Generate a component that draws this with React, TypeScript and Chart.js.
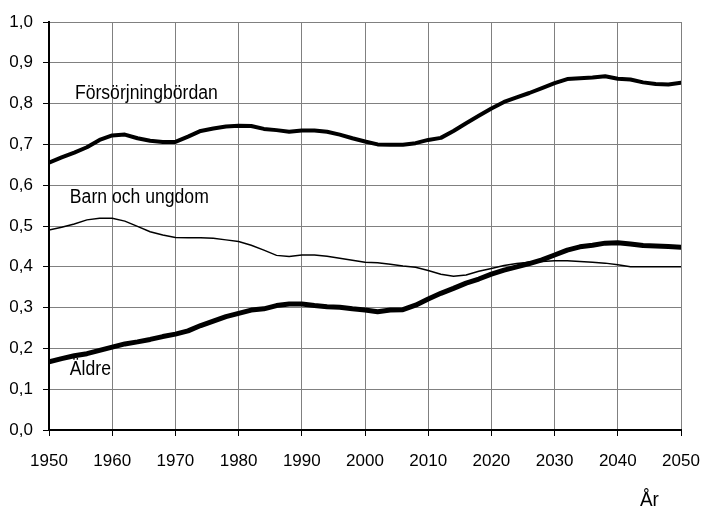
import React, { useEffect, useRef } from "react";
import { Chart, registerables } from "chart.js";

Chart.register(...registerables);

const years = [
  1950, 1952, 1954, 1956, 1958, 1960, 1962, 1964, 1966, 1968,
  1970, 1972, 1974, 1976, 1978, 1980, 1982, 1984, 1986, 1988,
  1990, 1992, 1994, 1996, 1998, 2000, 2002, 2004, 2006, 2008,
  2010, 2012, 2014, 2016, 2018, 2020, 2022, 2024, 2026, 2028,
  2030, 2032, 2034, 2036, 2038, 2040, 2042, 2044, 2046, 2048, 2050,
];

const forsorjning = [
  0.655, 0.668, 0.680, 0.693, 0.711, 0.722, 0.724, 0.715, 0.709, 0.706,
  0.706, 0.719, 0.733, 0.739, 0.744, 0.746, 0.745, 0.738, 0.735, 0.731,
  0.734, 0.734, 0.731, 0.724, 0.715, 0.707, 0.700, 0.699, 0.699, 0.703,
  0.711, 0.716, 0.733, 0.752, 0.770, 0.788, 0.804, 0.815, 0.826, 0.838,
  0.850, 0.860, 0.862, 0.864, 0.867, 0.861, 0.859, 0.852, 0.848, 0.847, 0.851,
];

const barnUngdom = [
  0.490, 0.497, 0.505, 0.515, 0.519, 0.519, 0.512, 0.499, 0.486, 0.478,
  0.472, 0.471, 0.471, 0.470, 0.466, 0.462, 0.453, 0.441, 0.428, 0.425,
  0.429, 0.429, 0.426, 0.421, 0.416, 0.411, 0.410, 0.406, 0.402, 0.399,
  0.391, 0.382, 0.377, 0.380, 0.389, 0.396, 0.403, 0.408, 0.411, 0.413,
  0.415, 0.415, 0.413, 0.411, 0.409, 0.405, 0.400, 0.400, 0.400, 0.400, 0.400,
];

const aldre = [
  0.167, 0.175, 0.182, 0.187, 0.195, 0.203, 0.211, 0.216, 0.222, 0.229,
  0.235, 0.243, 0.256, 0.267, 0.278, 0.286, 0.294, 0.297, 0.305, 0.309,
  0.309, 0.305, 0.302, 0.301, 0.297, 0.294, 0.290, 0.294, 0.295, 0.306,
  0.321, 0.335, 0.347, 0.360, 0.370, 0.382, 0.392, 0.400, 0.408, 0.417,
  0.429, 0.441, 0.449, 0.453, 0.458, 0.459, 0.456, 0.452, 0.451, 0.450, 0.448,
];

const seriesLabels = ["Försörjningbördan", "Barn och ungdom", "Äldre"];
// anchor [year, value] of each series label (text baseline, left edge)
const labelAnchors: [number, number][] = [
  [1954.1, 0.811],
  [1953.3, 0.557],
  [1953.3, 0.135],
];
const xTitle = "År";

const FONT = '"Liberation Sans", Arial, sans-serif';

function narrowText(ctx: CanvasRenderingContext2D, t: string, x: number, y: number, sx: number) {
  ctx.save();
  ctx.translate(x, y);
  ctx.scale(sx, 1);
  ctx.fillText(t, 0, 0);
  ctx.restore();
}

const labelsPlugin = {
  id: "seriesLabels",
  afterDraw(chart: any) {
    const ctx = chart.ctx;
    const xs = chart.scales.x;
    const ys = chart.scales.y;
    ctx.save();
    ctx.fillStyle = "#000";
    ctx.font = `20px ${FONT}`;
    ctx.textAlign = "left";
    ctx.textBaseline = "alphabetic";
    seriesLabels.forEach((t, i) => {
      const [xv, yv] = labelAnchors[i];
      narrowText(ctx, t, xs.getPixelForValue(xv), ys.getPixelForValue(yv), 0.88);
    });
    ctx.font = `21px ${FONT}`;
    narrowText(ctx, xTitle, chart.chartArea.right - 41, chart.chartArea.bottom + 76, 0.9);
    ctx.restore();
  },
};

export default function App() {
  const ref = useRef<HTMLCanvasElement>(null);
  useEffect(() => {
    document.body.style.margin = "0";
    const mk = (vals: number[]) => years.map((y, i) => ({ x: y, y: vals[i] }));
    const chart = new Chart(ref.current!, {
      type: "line",
      data: {
        datasets: [
          {
            label: seriesLabels[0],
            data: mk(forsorjning),
            borderColor: "#000",
            borderWidth: 4,
            pointRadius: 0,
            tension: 0,
            borderJoinStyle: "round",
            borderCapStyle: "round",
          },
          {
            label: seriesLabels[1],
            data: mk(barnUngdom),
            borderColor: "#000",
            borderWidth: 1.5,
            pointRadius: 0,
            tension: 0,
          },
          {
            label: seriesLabels[2],
            data: mk(aldre),
            borderColor: "#000",
            borderWidth: 5,
            pointRadius: 0,
            tension: 0,
            borderJoinStyle: "round",
            borderCapStyle: "round",
          },
        ],
      },
      options: {
        animation: false,
        responsive: false,
        maintainAspectRatio: false,
        layout: { padding: { top: 22, right: 21, left: 0, bottom: 0 } },
        plugins: { legend: { display: false }, title: { display: false }, tooltip: { enabled: false } },
        scales: {
          x: {
            type: "linear",
            min: 1950,
            max: 2050,
            afterFit: (s: any) => {
              s.height = 84;
              s.paddingLeft = 0;
              s.paddingRight = 0;
            },
            ticks: {
              stepSize: 10,
              color: "#000",
              padding: 15,
              maxRotation: 0,
              font: { family: FONT, size: 17 },
              callback: (v: any) => String(v),
            },
            grid: { color: "#808080", lineWidth: 1, tickLength: 6, tickColor: "#000" },
            border: { color: "#000", width: 2 },
          },
          y: {
            min: 0,
            max: 1,
            afterFit: (s: any) => {
              s.width = 49;
              s.paddingTop = 0;
              s.paddingBottom = 0;
            },
            ticks: {
              stepSize: 0.1,
              color: "#000",
              padding: 10,
              font: { family: FONT, size: 17 },
              callback: (v: any) => Number(v).toFixed(1).replace(".", ","),
            },
            grid: { color: "#808080", lineWidth: 1, tickLength: 6, tickColor: "#000" },
            border: { color: "#000", width: 2 },
          },
        },
      },
      plugins: [labelsPlugin],
    });
    return () => chart.destroy();
  }, []);
  return (
    <div style={{ width: 702, height: 514 }}>
      <canvas ref={ref} width={702} height={514} style={{ display: "block" }} />
    </div>
  );
}
